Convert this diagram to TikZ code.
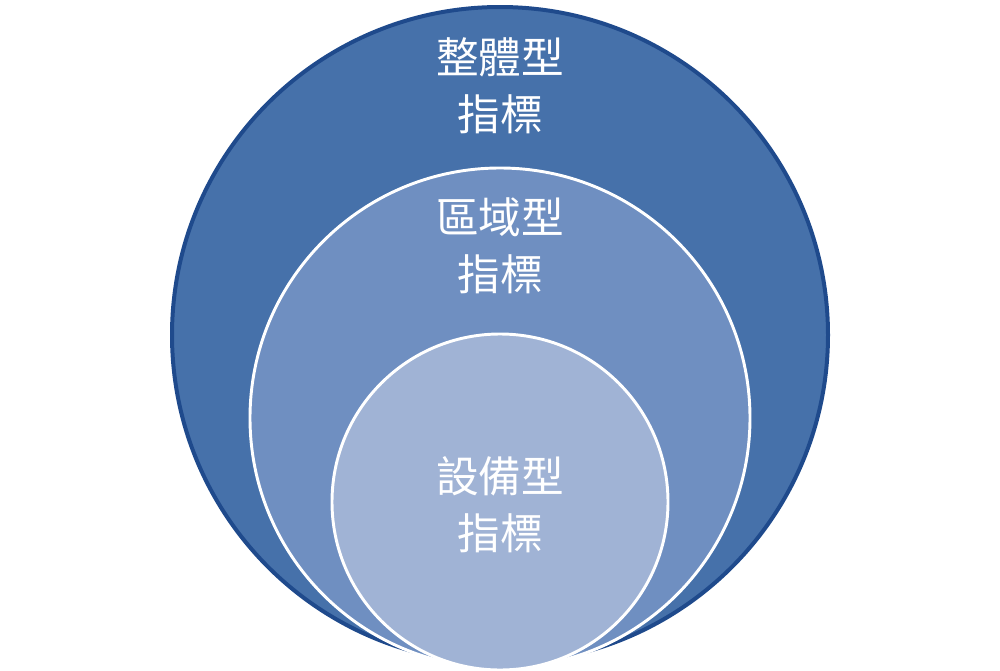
\documentclass[tikz,border=0pt]{standalone}
\usepackage{fontspec}
\newfontfamily\cjk{Noto Sans CJK TC}
\definecolor{outerc}{HTML}{4671AA}
\definecolor{outerrim}{HTML}{1F4A8C}
\definecolor{midc}{HTML}{6F8FC1}
\definecolor{innc}{HTML}{A0B3D5}
\tikzset{lbl/.style={text=white,font=\cjk\fontsize{32}{43}\selectfont,align=center}}
\begin{document}
\begin{tikzpicture}[x=0.75pt,y=-0.75pt]
\useasboundingbox (0,0) rectangle (1000,671);
\node[circle,minimum size=656*0.75pt,inner sep=0,fill=outerc,draw=outerrim,line width=3pt] (outer) at (500,335) {};
\node[circle,minimum size=500*0.75pt,inner sep=0,fill=midc,draw=white,line width=2.2pt] (mid) at (500,418) {};
\node[circle,minimum size=336*0.75pt,inner sep=0,fill=innc,draw=white,line width=2.2pt] (inn) at (500,502) {};
\node[lbl] (t1) at (500,86) {整體型\\指標};
\node[lbl] (t2) at (500,246) {區域型\\指標};
\node[lbl] (t3) at (500,505) {設備型\\指標};
\end{tikzpicture}
\end{document}
